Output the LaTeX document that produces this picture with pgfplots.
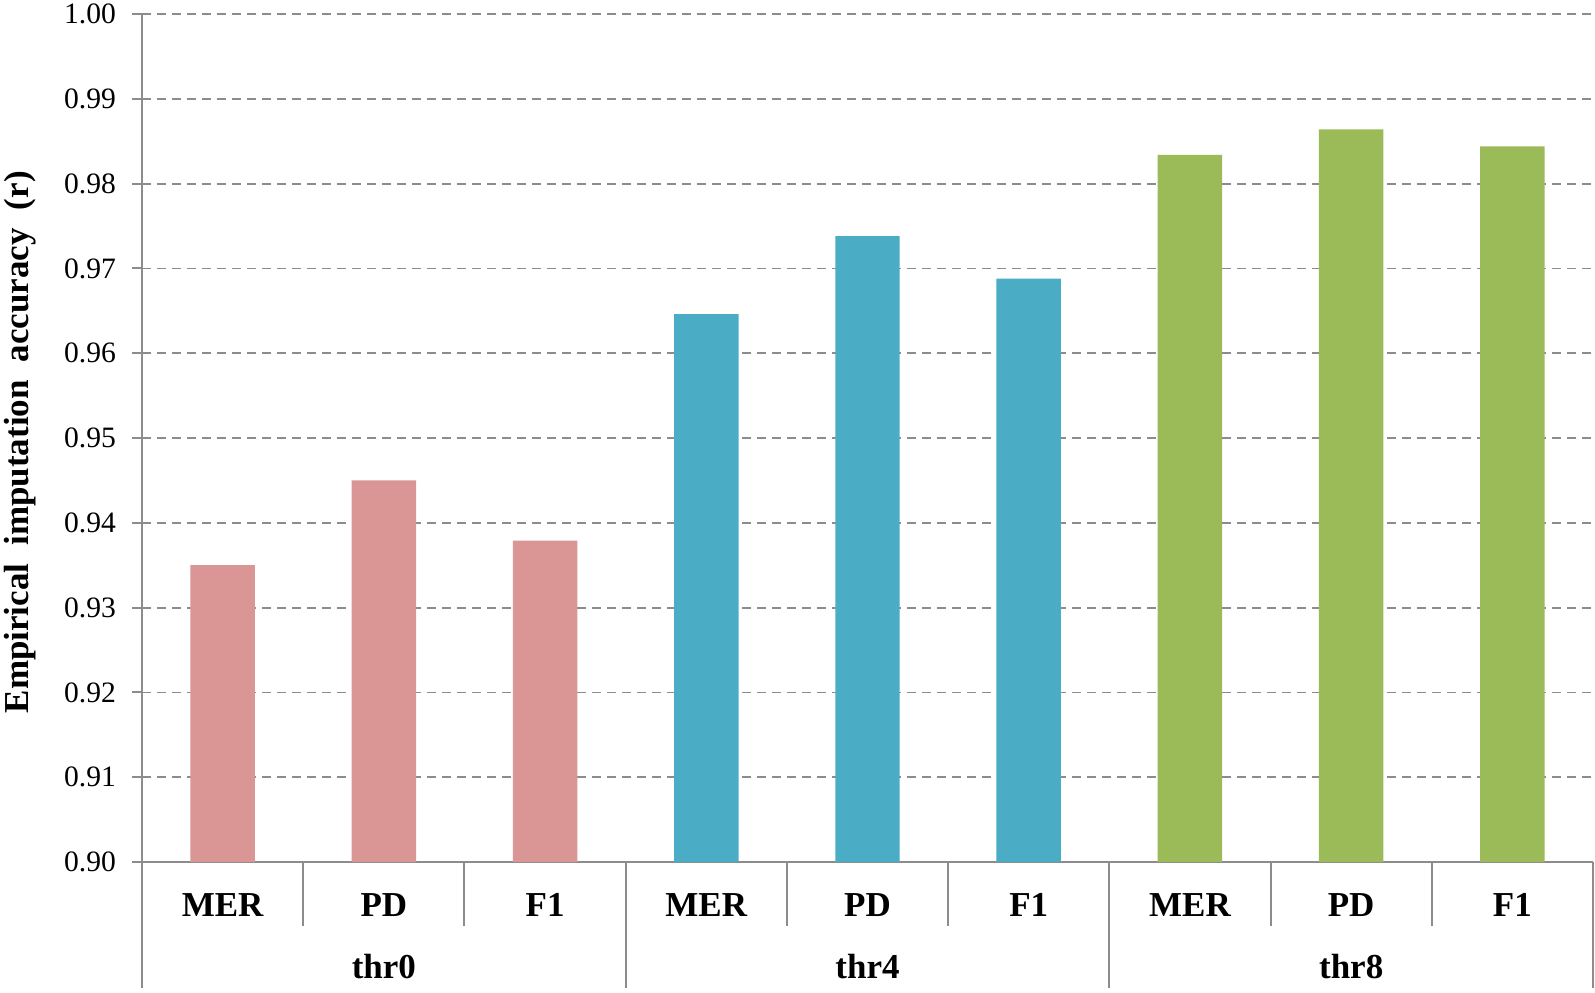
\documentclass[border=0pt]{standalone}
\usepackage{pgfplots}
\pgfplotsset{compat=1.18}
\usepackage{fontspec}
\setmainfont{Liberation Serif}

\definecolor{barred}{HTML}{D99694}
\definecolor{barblue}{HTML}{4BACC6}
\definecolor{bargreen}{HTML}{9BBB59}
\definecolor{axisgray}{HTML}{8C8C8C}

\begin{document}
\begin{tikzpicture}
\useasboundingbox (-71pt,-65pt) rectangle (726.5pt,431pt);
\begin{axis}[
    at={(0,0)}, anchor=south west,
    scale only axis, width=725.5pt, height=424pt,
    xmin=0.5, xmax=9.5, ymin=0.90, ymax=1.00,
    clip mode=individual,
    axis x line*=bottom, axis y line*=left,
    axis line style={-, draw=axisgray, line width=1pt},
    every outer x axis line/.append style={-},
    every outer y axis line/.append style={-},
    ytick={0.90,0.91,0.92,0.93,0.94,0.95,0.96,0.97,0.98,0.99,1.00},
    /pgf/number format/assume math mode=true,
    yticklabel style={font=\fontsize{14.8}{17}\selectfont, xshift=-4.5pt},
    yticklabel style={/pgf/number format/.cd, fixed, fixed zerofill, precision=2},
    tick align=outside, major tick length=5pt,
    ytick style={draw=axisgray, line width=1pt},
    ymajorgrids,
    major grid style={draw=axisgray, line width=0.9pt, dash pattern=on 4.5pt off 3pt},
    xtick={1,2,3,4,5,6,7,8,9},
    xticklabels={MER,PD,F1,MER,PD,F1,MER,PD,F1},
    xtick style={draw=none},
    xticklabel style={font=\bfseries\fontsize{17.5}{20}\selectfont, anchor=base, yshift=-22pt},
    ylabel={Empirical\hspace{9pt}imputation\hspace{9pt}accuracy\hspace{9pt}(r)},
    ylabel style={font=\bfseries\fontsize{17.5}{20}\selectfont, at={(axis description cs:-0.0841,0.495)}, anchor=center},
]
\addplot[ybar, bar width=0.4, bar shift=0pt, fill=barred, draw=none] coordinates {
    (1,0.9350) (2,0.9450) (3,0.9379)
};
\addplot[ybar, bar width=0.4, bar shift=0pt, fill=barblue, draw=none] coordinates {
    (4,0.9646) (5,0.9738) (6,0.9688)
};
\addplot[ybar, bar width=0.4, bar shift=0pt, fill=bargreen, draw=none] coordinates {
    (7,0.9834) (8,0.9864) (9,0.9844)
};
% category separators below the axis
\draw[axisgray, line width=1pt] (axis cs:0.5,0.9) -- ++(0pt,-63pt);
\draw[axisgray, line width=1pt] (axis cs:3.5,0.9) -- ++(0pt,-63pt);
\draw[axisgray, line width=1pt] (axis cs:6.5,0.9) -- ++(0pt,-63pt);
\draw[axisgray, line width=1pt] (axis cs:9.5,0.9) -- ++(0pt,-63pt);
\draw[axisgray, line width=1pt] (axis cs:1.5,0.9) -- ++(0pt,-32pt);
\draw[axisgray, line width=1pt] (axis cs:2.5,0.9) -- ++(0pt,-32pt);
\draw[axisgray, line width=1pt] (axis cs:4.5,0.9) -- ++(0pt,-32pt);
\draw[axisgray, line width=1pt] (axis cs:5.5,0.9) -- ++(0pt,-32pt);
\draw[axisgray, line width=1pt] (axis cs:7.5,0.9) -- ++(0pt,-32pt);
\draw[axisgray, line width=1pt] (axis cs:8.5,0.9) -- ++(0pt,-32pt);
% group labels
\node[anchor=base, yshift=-58pt, font=\bfseries\fontsize{17.5}{20}\selectfont] at (axis cs:2,0.9) {thr0};
\node[anchor=base, yshift=-58pt, font=\bfseries\fontsize{17.5}{20}\selectfont] at (axis cs:5,0.9) {thr4};
\node[anchor=base, yshift=-58pt, font=\bfseries\fontsize{17.5}{20}\selectfont] at (axis cs:8,0.9) {thr8};
\end{axis}
\end{tikzpicture}
\end{document}
